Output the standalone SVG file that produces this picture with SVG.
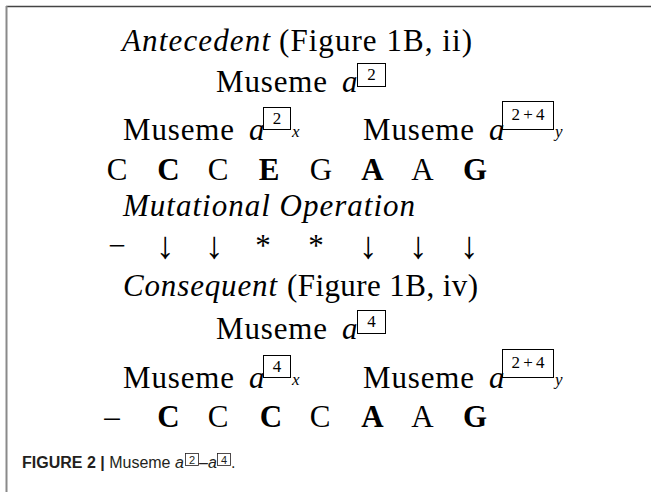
<svg xmlns="http://www.w3.org/2000/svg" width="651" height="492" viewBox="0 0 651 492">
<style>
.r{font-family:"Liberation Serif","Times New Roman",serif;font-size:31px;fill:#000}
.i{font-style:italic}
.b{font-weight:bold}
.n{text-anchor:middle}
.ar{font-family:"Liberation Serif","Times New Roman",serif;font-size:38px;fill:#000;text-anchor:middle}
.s{font-family:"Liberation Serif","Times New Roman",serif;font-size:17px;text-anchor:middle;fill:#000}
.sub{font-family:"Liberation Serif","Times New Roman",serif;font-size:17px;font-style:italic;fill:#000}
.bx{fill:none;stroke:#000;stroke-width:1}
.cap{font-family:"Liberation Sans",Arial,sans-serif;font-size:16px;fill:#231f20}
.cs{font-family:"Liberation Sans",Arial,sans-serif;font-size:11px;fill:#231f20;text-anchor:middle}
.cbx{fill:none;stroke:#231f20;stroke-width:0.8}
</style>
<rect width="651" height="492" fill="#fff"/>
<g id="frame">
<line x1="6" y1="6.5" x2="651" y2="6.5" stroke="#444" stroke-width="1.6"/>
<line x1="6.5" y1="6" x2="6.5" y2="492" stroke="#8a8a8a" stroke-width="2"/>
</g>
<g id="antecedent">
<text class="r i" x="122" y="51" textLength="148">Antecedent</text>
<text class="r" x="279" y="51" textLength="193">(Figure 1B, ii)</text>
</g>
<g id="museme-a2">
<text class="r" x="216" y="92" textLength="111">Museme</text>
<text class="r i" x="342" y="92">a</text>
<rect class="bx" x="357.5" y="63.5" width="28" height="23"/>
<text class="s" x="371.5" y="80">2</text>
</g>
<g id="museme-a2x">
<text class="r" x="123" y="140" textLength="111">Museme</text>
<text class="r i" x="249" y="140">a</text>
<rect class="bx" x="263.5" y="107.5" width="27" height="22"/>
<text class="s" x="277" y="124">2</text>
<text class="sub" x="292" y="137">x</text>
</g>
<g id="museme-a24y">
<text class="r" x="363" y="140" textLength="111">Museme</text>
<text class="r i" x="489" y="140">a</text>
<rect class="bx" x="502.5" y="101.5" width="51" height="28"/>
<text class="s" x="528" y="120" textLength="33">2+4</text>
<text class="sub" x="555" y="137">y</text>
</g>
<g id="notes-antecedent">
<text class="r n" x="117" y="180">C</text>
<text class="r n b" x="168.5" y="180">C</text>
<text class="r n" x="218" y="180">C</text>
<text class="r n b" x="269" y="180">E</text>
<text class="r n" x="321" y="180">G</text>
<text class="r n b" x="372.5" y="180">A</text>
<text class="r n" x="422.5" y="180">A</text>
<text class="r n b" x="475" y="180">G</text>
</g>
<g id="mutational-operation">
<text class="r i" x="123" y="216" textLength="292">Mutational Operation</text>
</g>
<g id="operations">
<text class="r n" x="117" y="256">−</text>
<text class="ar" x="165" y="258">↓</text>
<text class="ar" x="214" y="258">↓</text>
<text class="r n" x="263" y="256">*</text>
<text class="r n" x="316" y="256">*</text>
<text class="ar" x="368" y="258">↓</text>
<text class="ar" x="418" y="258">↓</text>
<text class="ar" x="469" y="258">↓</text>
</g>
<g id="consequent">
<text class="r i" x="123" y="296" textLength="154">Consequent</text>
<text class="r" x="287" y="296" textLength="191">(Figure 1B, iv)</text>
</g>
<g id="museme-a4">
<text class="r" x="216" y="339" textLength="111">Museme</text>
<text class="r i" x="342" y="339">a</text>
<rect class="bx" x="357.5" y="310.5" width="28" height="23"/>
<text class="s" x="371.5" y="327">4</text>
</g>
<g id="museme-a4x">
<text class="r" x="123" y="388" textLength="111">Museme</text>
<text class="r i" x="249" y="388">a</text>
<rect class="bx" x="263.5" y="355.5" width="27" height="22"/>
<text class="s" x="277" y="372">4</text>
<text class="sub" x="292" y="385">x</text>
</g>
<g id="museme-a24y-2">
<text class="r" x="363" y="388" textLength="111">Museme</text>
<text class="r i" x="489" y="388">a</text>
<rect class="bx" x="502.5" y="349.5" width="51" height="28"/>
<text class="s" x="528" y="368" textLength="33">2+4</text>
<text class="sub" x="555" y="385">y</text>
</g>
<g id="notes-consequent">
<text class="r n" x="112" y="427">–</text>
<text class="r n b" x="168.5" y="427">C</text>
<text class="r n" x="218" y="427">C</text>
<text class="r n b" x="271" y="427">C</text>
<text class="r n" x="320" y="427">C</text>
<text class="r n b" x="372.5" y="427">A</text>
<text class="r n" x="422.5" y="427">A</text>
<text class="r n b" x="475" y="427">G</text>
</g>
<g id="caption">
<text class="cap" x="22" y="468"><tspan font-weight="bold">FIGURE 2 |</tspan> Museme <tspan font-style="italic">a</tspan></text>
<rect class="cbx" x="185.5" y="453.5" width="13" height="12"/>
<text class="cs" x="192" y="464">2</text>
<text class="cap" x="199" y="468">–<tspan font-style="italic">a</tspan></text>
<rect class="cbx" x="217.5" y="453.5" width="13" height="12"/>
<text class="cs" x="224" y="464">4</text>
<text class="cap" x="231" y="468">.</text>
</g>
</svg>
